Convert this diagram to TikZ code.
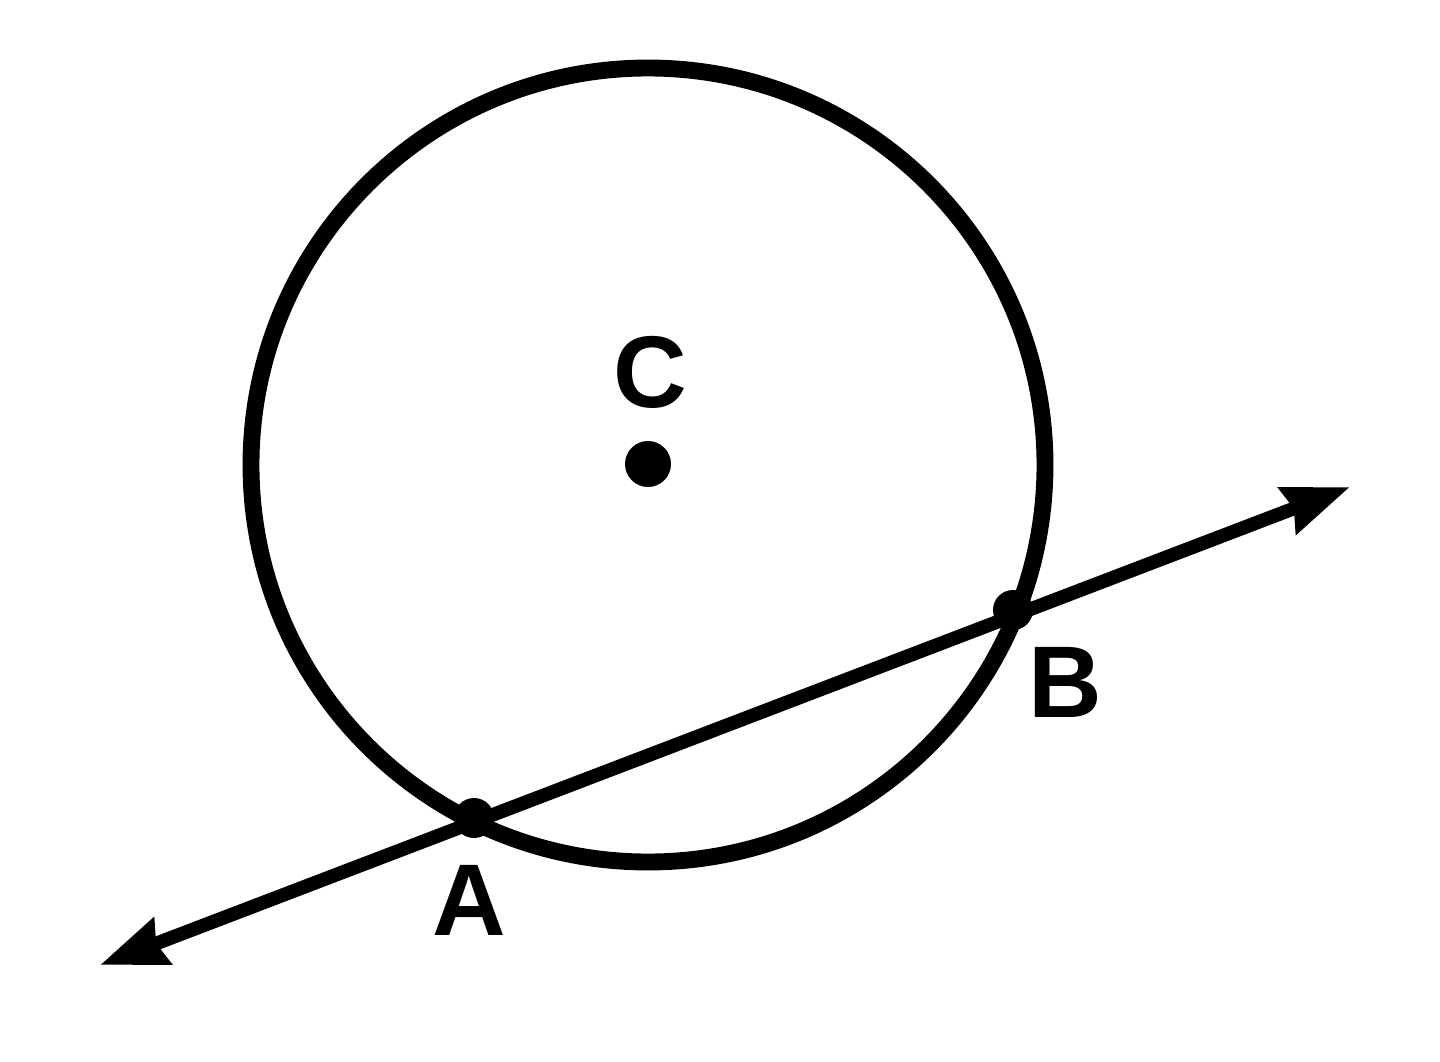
\documentclass[tikz,border=0pt]{standalone}
\usepackage{fontspec}
\setmainfont{Liberation Sans}
\usetikzlibrary{arrows.meta}
\begin{document}
\begin{tikzpicture}[x=1cm,y=1cm,
  lbl/.style={inner sep=0pt, font=\fontsize{29}{34}\selectfont\bfseries},
  pt/.style={circle, fill=black, inner sep=0pt, minimum size=#1},
  circ/.style={line width=4.8pt},
  secant/.style={line width=3.9pt, {Stealth[length=0.66cm,width=0.48cm,inset=0.06cm]}-{Stealth[length=0.66cm,width=0.48cm,inset=0.06cm]}}]
\useasboundingbox (0,0) rectangle (14.4,10.61);
\coordinate (Cc) at (6.48,5.96);
\draw[circ] (Cc) circle (3.97);
\node[pt=0.46cm] (C) at (6.48,5.97) {};
\coordinate (L) at (1.00,0.96);
\coordinate (R) at (13.50,5.74);
\draw[secant] (L) -- (R);
\node[pt=0.4cm] (A) at (4.74,2.43) {};
\node[pt=0.4cm] (B) at (10.13,4.51) {};
\node[lbl] (lC) at (6.50,6.89) {C};
\node[lbl] (lA) at (4.69,1.61) {A};
\node[lbl] (lB) at (10.65,3.79) {B};
\end{tikzpicture}
\end{document}
